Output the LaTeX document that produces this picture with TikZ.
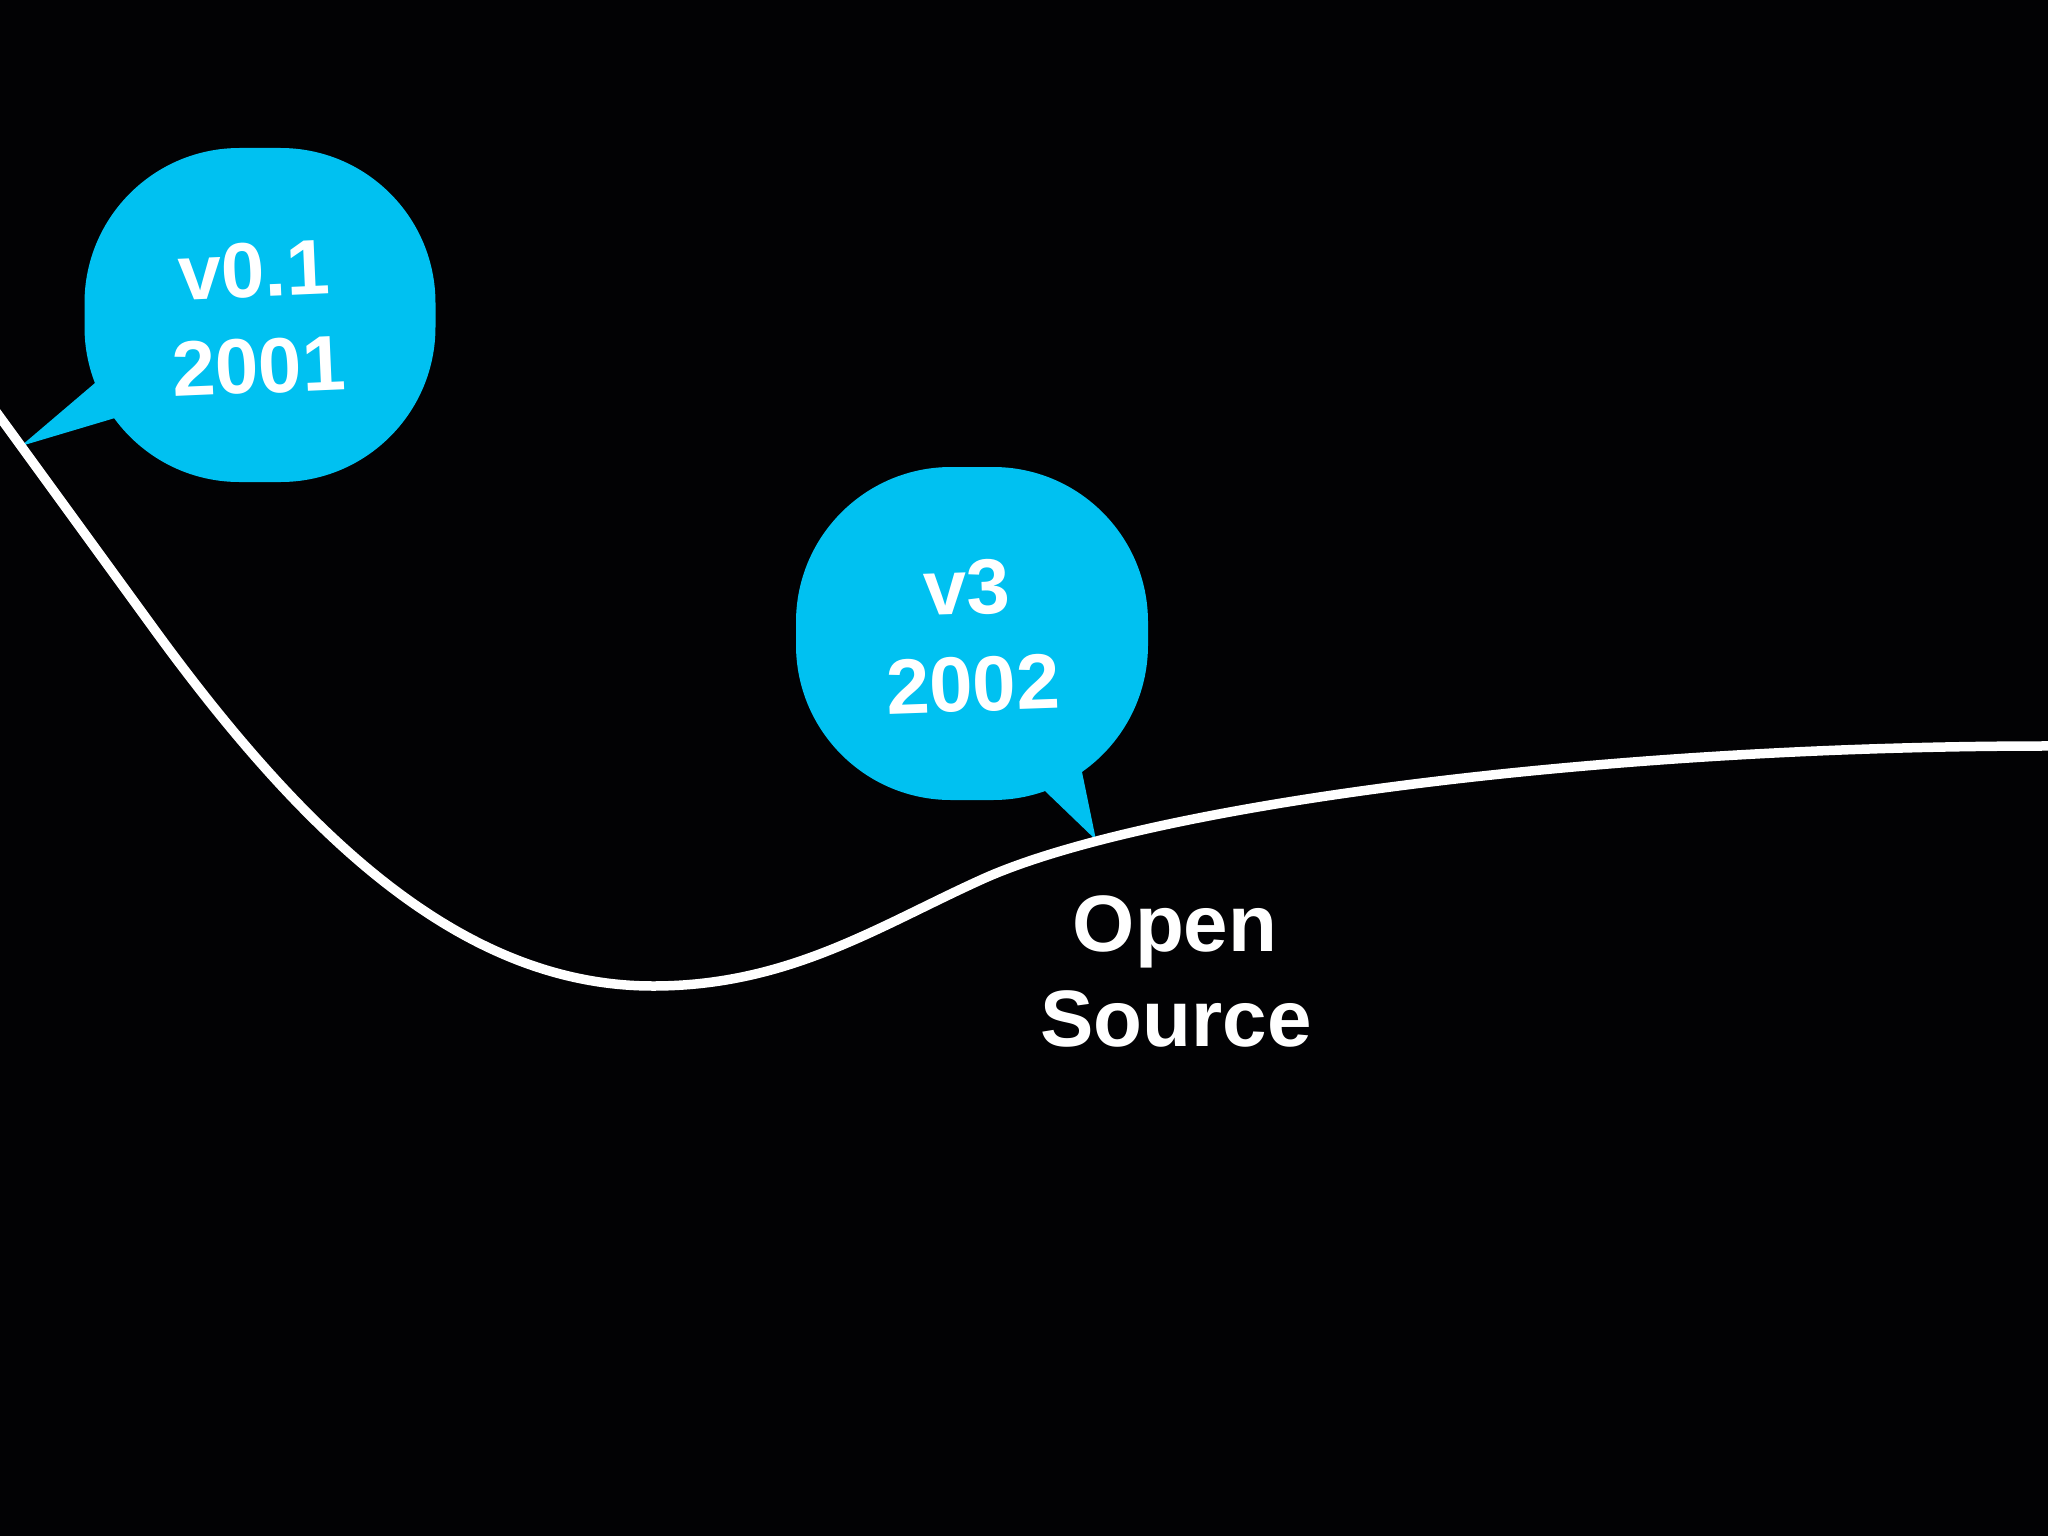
\documentclass[tikz,border=0pt]{standalone}
\usepackage{fontspec}
\setmainfont{Liberation Sans}
\definecolor{bubblecyan}{HTML}{00C1F1}
\definecolor{bgblack}{HTML}{020204}
\begin{document}
\begin{tikzpicture}[x=1pt,y=-1pt,
  bubble/.style={fill=bubblecyan, draw=none, rounded corners=155pt, inner sep=0pt},
  bubbletext/.style={text=white, font=\bfseries\fontsize{78}{90}\selectfont, inner sep=0pt, anchor=base},
  labeltext/.style={text=white, font=\bfseries\fontsize{80}{96}\selectfont, inner sep=0pt, anchor=base},
  curveline/.style={draw=white, line width=9.5pt}]
\fill[bgblack] (0,0) rectangle (2048,1536);
\useasboundingbox (0,0) rectangle (2048,1536);

% bubble 1
\node[bubble, minimum width=351pt, minimum height=334pt] (b1) at (260,315) {};
\coordinate (t1) at (21,446);
\fill[bubblecyan] (95,383) -- (t1) -- (115,418) -- (150,400) -- cycle;
\node[bubbletext, rotate=2.5] (v01) at (255,297) {v0.1};
\node[bubbletext, rotate=2.5] (y2001) at (260,393) {2001};

% bubble 2
\node[bubble, minimum width=352pt, minimum height=333pt] (b2) at (972,633.5) {};
\coordinate (t2) at (1096,840);
\fill[bubblecyan] (1082,772) -- (t2) -- (1045,791) -- (1060,760) -- cycle;
\node[bubbletext, rotate=2] (v3) at (968,614) {v3};
\node[bubbletext, rotate=2] (y2002) at (974,711) {2002};

% label
\node[labeltext] (open) at (1175,951) {Open};
\node[labeltext] (source) at (1176,1046) {Source};

% curve
\coordinate (c0) at (-10,403.4);
\coordinate (c1) at (157,633);
\coordinate (cmin) at (653,986);
\coordinate (cbend) at (985,878);
\coordinate (cend) at (2060,746);
\draw[curveline] (c0) -- (t1) -- (c1)
  .. controls (307,838) and (463,986) .. (cmin)
  .. controls (790,986) and (880,925) .. (cbend)
  .. controls (1150,805) and (1600,745) .. (cend);
\end{tikzpicture}
\end{document}
